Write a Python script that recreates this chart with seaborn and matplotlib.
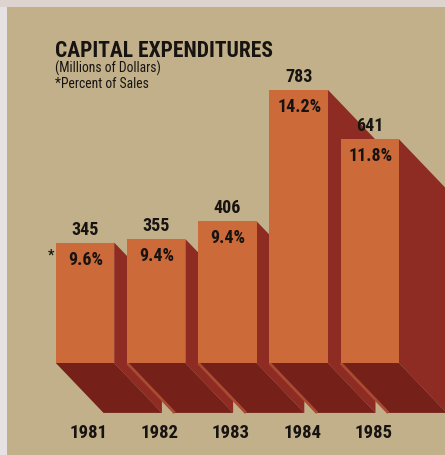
import numpy as np
import pandas as pd
import seaborn as sns
import matplotlib.pyplot as plt
from matplotlib.patches import Polygon, Rectangle

# ---- data ----
years = ["1981", "1982", "1983", "1984", "1985"]
capex = [345, 355, 406, 783, 641]
pct_labels = ["9.6%", "9.4%", "9.4%", "14.2%", "11.8%"]

# ---- style ----
BG = "#c2b08a"
FRONT = "#cc6a3a"
SIDE = "#8e2b22"
BOTTOM = "#76201a"
EDGE_HI = "#a94a32"
INK = "#161311"

sns.set_theme(style="white")
plt.rcParams["font.family"] = ["Roboto Condensed", "Barlow Condensed", "DejaVu Sans"]

fig = plt.figure(figsize=(4.45, 4.55), dpi=100)
fig.patch.set_facecolor(BG)
ax = fig.add_axes([0, 0, 1, 1])
ax.set_facecolor(BG)

df = pd.DataFrame({"year": years, "capex": capex})
sns.barplot(data=df, x="year", y="capex", color=FRONT, saturation=1,
            width=0.82, ax=ax, zorder=5, linewidth=0)

ax.set_xlim(-1.194, 5.056)
ax.set_ylim(-263.6, 1040)
ax.axis("off")

# depth offset of extrusion (data units)
DX, DY = 0.67, -143

for i, p in enumerate(ax.patches):
    x0 = p.get_x()
    w = p.get_width()
    h = p.get_height()
    x1 = x0 + w
    z = 1 + i * 0.1
    side = Polygon([(x1, h), (x1 + DX, h + DY), (x1 + DX, DY), (x1, 0)],
                   closed=True, facecolor=SIDE, edgecolor="none", zorder=z)
    bottom = Polygon([(x0, 0), (x1, 0), (x1 + DX, DY), (x0 + DX, DY)],
                     closed=True, facecolor=BOTTOM, edgecolor="none", zorder=z + 0.01)
    ax.add_patch(side)
    ax.add_patch(bottom)
    if i > 0:
        ax.plot([x0, x0 + DX], [0, DY], color=EDGE_HI, lw=2.0, zorder=z + 0.02,
                solid_capstyle="butt")

    cx = x0 + w / 2
    ax.text(cx, h + 23, str(capex[i]), ha="center", va="baseline",
            fontsize=13, fontweight="bold", color=INK, zorder=10)
    ax.text(cx + 0.01, h - 63, pct_labels[i], ha="center", va="baseline",
            fontsize=13, fontweight="bold", color=INK, zorder=10)
    ax.text(cx + 0.05, -215, years[i], ha="center", va="baseline",
            fontsize=13.5, fontweight="bold", color=INK, zorder=10)

# asterisk marker left of first bar
p0 = ax.patches[0]
ax.text(p0.get_x() - 0.07, p0.get_height() - 50, "*", ha="center", va="baseline",
        fontsize=10, fontweight="bold", color=INK, zorder=10)

# titles
fig.text(55 / 445, 1 - 57 / 455, "CAPITAL EXPENDITURES", ha="left", va="baseline",
         fontsize=15.5, fontweight="bold", color=INK)
fig.text(55 / 445, 1 - 73 / 455, "(Millions of Dollars)", ha="left", va="baseline",
         fontsize=9.8, color=INK)
fig.text(55 / 445, 1 - 88 / 455, "*Percent of Sales", ha="left", va="baseline",
         fontsize=9.8, color=INK)

# scan edges
fig.add_artist(Rectangle((0, 0), 7 / 445, 1, transform=fig.transFigure,
                         facecolor="#e6e1e3", edgecolor="none"))
fig.add_artist(Rectangle((0, 1 - 7 / 455), 1, 7 / 455, transform=fig.transFigure,
                         facecolor="#ddd3cf", edgecolor="none"))

fig.savefig("out.png", dpi=100, facecolor=BG)
